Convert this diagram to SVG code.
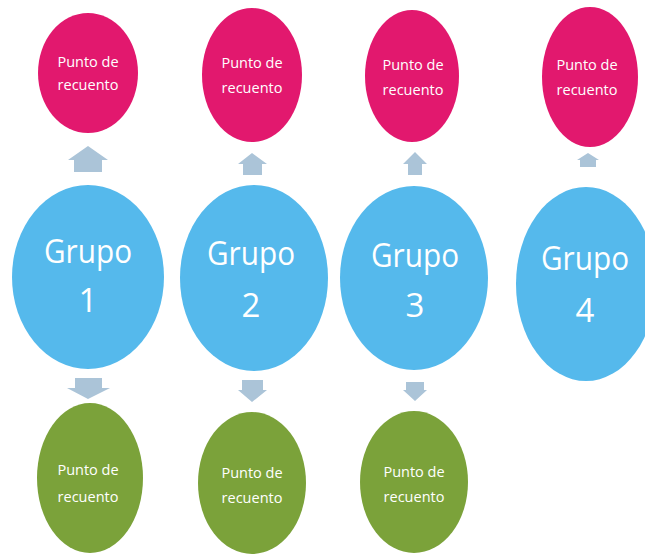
<svg xmlns="http://www.w3.org/2000/svg" width="645" height="555" viewBox="0 0 645 555">
<style>
.pink{fill:#E2186E}
.blue{fill:#55B9EC}
.green{fill:#7BA23A}
.arrow{fill:#ABC4D8}
.sm{font-family:"Open Sans","Liberation Sans",sans-serif;font-size:14.5px;fill:#FFFFFF;text-anchor:middle}
.lg{font-family:"Open Sans","Liberation Sans",sans-serif;font-size:33px;fill:#FFFFFF;text-anchor:middle}
</style>
<rect width="645" height="555" fill="#FFFFFF"/>
<g id="connectors">
<polygon class="arrow" points="68,160 88,146 108,160 102,160 102,172 74,172 74,160"/>
<polygon class="arrow" points="238,164 252,153 267,164 262,164 262,175 243,175 243,164"/>
<polygon class="arrow" points="403,164 415,152 427,164 422,164 422,175 408,175 408,164"/>
<polygon class="arrow" points="577,160 588,153 599,160 596,160 596,167 580,167 580,160"/>
<polygon class="arrow" points="75,378 102,378 102,388 110,388 88,399 67,388 75,388"/>
<polygon class="arrow" points="242,380 263,380 263,390 267,390 252,402 238,390 242,390"/>
<polygon class="arrow" points="406,382 424,382 424,390 427,390 415,401 403,390 406,390"/>
</g>
<g id="punto-top-1"><ellipse class="pink" cx="88" cy="73" rx="50" ry="60"/><text class="sm" x="88" y="67">Punto de</text><text class="sm" x="88" y="90">recuento</text></g>
<g id="punto-top-2"><ellipse class="pink" cx="252" cy="75" rx="50" ry="67"/><text class="sm" x="252" y="68">Punto de</text><text class="sm" x="252" y="93">recuento</text></g>
<g id="punto-top-3"><ellipse class="pink" cx="412" cy="76" rx="47" ry="66"/><text class="sm" x="413" y="70">Punto de</text><text class="sm" x="413" y="95">recuento</text></g>
<g id="punto-top-4"><ellipse class="pink" cx="590" cy="77" rx="48" ry="70"/><text class="sm" x="587" y="70">Punto de</text><text class="sm" x="587" y="95">recuento</text></g>
<g id="grupo-1"><ellipse class="blue" cx="88" cy="277" rx="76" ry="92"/><text class="lg" x="88" y="263" textLength="88" lengthAdjust="spacingAndGlyphs">Grupo</text><text class="lg" x="88" y="312">1</text></g>
<g id="grupo-2"><ellipse class="blue" cx="254" cy="278" rx="74" ry="93"/><text class="lg" x="251" y="265" textLength="88" lengthAdjust="spacingAndGlyphs">Grupo</text><text class="lg" x="251" y="317">2</text></g>
<g id="grupo-3"><ellipse class="blue" cx="414" cy="278" rx="74" ry="92"/><text class="lg" x="415" y="267" textLength="88" lengthAdjust="spacingAndGlyphs">Grupo</text><text class="lg" x="415" y="317">3</text></g>
<g id="grupo-4"><ellipse class="blue" cx="586" cy="284" rx="70" ry="97"/><text class="lg" x="585" y="270" textLength="88" lengthAdjust="spacingAndGlyphs">Grupo</text><text class="lg" x="585" y="322">4</text></g>
<g id="punto-bottom-1"><ellipse class="green" cx="90" cy="478" rx="53" ry="75"/><text class="sm" x="88" y="475">Punto de</text><text class="sm" x="88" y="502">recuento</text></g>
<g id="punto-bottom-2"><ellipse class="green" cx="252" cy="483" rx="54" ry="71"/><text class="sm" x="252" y="478">Punto de</text><text class="sm" x="252" y="503">recuento</text></g>
<g id="punto-bottom-3"><ellipse class="green" cx="414" cy="482" rx="54" ry="71"/><text class="sm" x="414" y="477">Punto de</text><text class="sm" x="414" y="502">recuento</text></g>
</svg>
